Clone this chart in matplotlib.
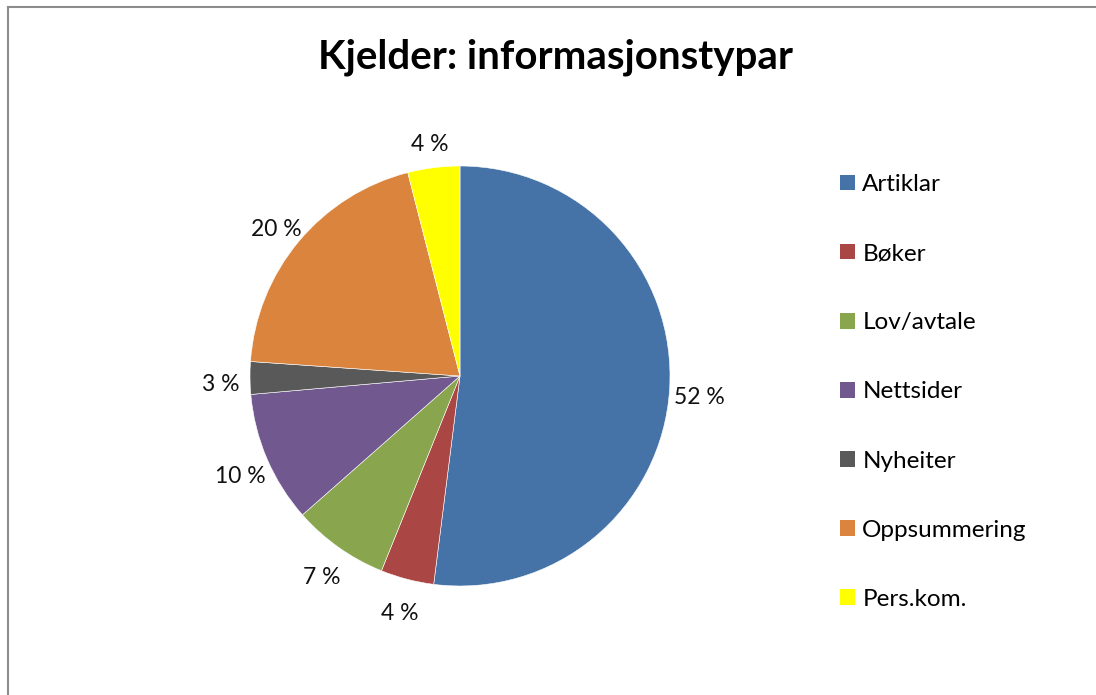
import numpy as np
from matplotlib import pyplot as plt
from matplotlib.patches import Patch
from matplotlib.lines import Line2D

# data (share of sources, %)
categories = ['Artiklar', 'Bøker', 'Lov/avtale', 'Nettsider', 'Nyheiter', 'Oppsummering', 'Pers.kom.']
shares = [52.0, 4.1, 7.4, 10.1, 2.5, 19.9, 4.0]
colors = ['#4572A7', '#AA4643', '#89A54E', '#71588F', '#595959', '#DB843D', '#FFFF00']
title = 'Kjelder: informasjonstypar'

plt.rcParams['font.family'] = ['Lato', 'DejaVu Sans']

fig = plt.figure(figsize=(10.96, 6.95), dpi=100)

# chart border (runs off the right and bottom edges like the original)
fig.add_artist(Line2D([8/1096, 8/1096], [0, 1 - 6.5/695], color='#8c8c8c', lw=1.5, transform=fig.transFigure))
fig.add_artist(Line2D([8/1096, 1], [1 - 6.5/695, 1 - 6.5/695], color='#8c8c8c', lw=1.5, transform=fig.transFigure))

ax = fig.add_axes([250/1096, 109/695, 420/1096, 420/695])
wedges, texts = ax.pie(shares, colors=colors, startangle=90, counterclock=False,
                       radius=1, wedgeprops=dict(edgecolor='white', linewidth=0.4))
ax.set_xlim(-1, 1)
ax.set_ylim(-1, 1)
ax.set_aspect('equal')
ax.axis('off')

# percentage labels outside the pie (half-up rounding like Excel)
start = 90.0
for v in shares:
    mid = np.deg2rad(start - v * 3.6 / 2)
    start -= v * 3.6
    r = 1.14
    ax.text(r * np.cos(mid), r * np.sin(mid) - 0.03, f'{int(np.floor(v + 0.5))} %',
            ha='center', va='center', fontsize=16.5, color='#111111', clip_on=False)

fig.text(555/1096, 1 - 57/695, title, ha='center', va='center', fontsize=29, fontweight='bold')

handles = [Patch(facecolor=c, edgecolor='none') for c in colors]
fig.legend(handles, categories, loc='upper left', bbox_to_anchor=(840/1096, 1 - 174/695),
           frameon=False, fontsize=17.5, labelspacing=1.98, handlelength=0.62, handleheight=0.62,
           handletextpad=0.3, borderaxespad=0, borderpad=0)

plt.savefig('out.png', dpi=100)
